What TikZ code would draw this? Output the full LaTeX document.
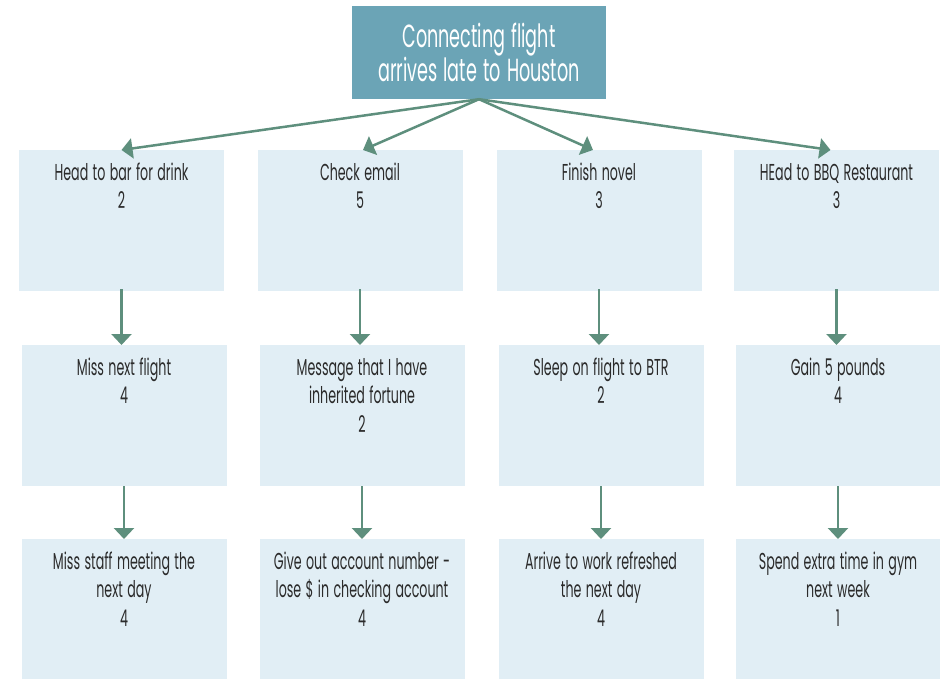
\documentclass[tikz,border=0pt]{standalone}
\usepackage{fontspec}
\setmainfont{Poppins}[FakeStretch=0.55, WordSpace=1.3]
\usetikzlibrary{arrows.meta}
\definecolor{topfill}{HTML}{6BA4B6}
\definecolor{boxfill}{HTML}{E1EEF5}
\definecolor{arrowcol}{HTML}{5E8F7D}
\definecolor{txtcol}{HTML}{2B2B2B}

\begin{document}
\begin{tikzpicture}[x=1pt, y=-1pt,
  box/.style={fill=boxfill, text=txtcol, inner sep=0pt, minimum width=205pt,
    text width=205pt, align=flush center, text height=30pt, text depth=111pt,
    execute at begin node={\spaceskip=0pt\xspaceskip=0pt},
    font=\fontsize{23}{28.5}\selectfont},
  arr/.style={arrowcol, line width=2.5pt, -{Triangle[width=20pt,length=11pt]}}]

\useasboundingbox (0,0) rectangle (940,679);

\node[fill=topfill, text=white, minimum width=254pt, minimum height=93pt, align=center,
  font=\fontsize{32}{34}\selectfont] (top) at (479,52.5) {Connecting flight\\arrives late to Houston};

\node[box, anchor=north] (b11) at (121.5,150) {Head to bar for drink\\2};
\node[box, anchor=north] (b12) at (360,150) {Check email\\5};
\node[box, anchor=north] (b13) at (599,150) {Finish novel\\3};
\node[box, anchor=north] (b14) at (836.5,150) {HEad to BBQ Restaurant\\3};

\node[box, anchor=north] (b21) at (124,345) {Miss next flight\\4};
\node[box, anchor=north] (b22) at (362,345) {Message that I have\\inherited fortune\\2};
\node[box, anchor=north] (b23) at (601,345) {Sleep on flight to BTR\\2};
\node[box, anchor=north] (b24) at (838,345) {Gain 5 pounds\\4};

\node[box, anchor=north] (b31) at (124,539) {Miss staff meeting the\\next day\\4};
\node[box, anchor=north] (b32) at (362,539) {Give out account number -\\lose \$ in checking account\\4};
\node[box, anchor=north] (b33) at (601,539) {Arrive to work refreshed\\the next day\\4};
\node[box, anchor=north] (b34) at (838,539) {Spend extra time in gym\\next week\\1};

\draw[arr] (top.south) -- (b11.north);
\draw[arr] (top.south) -- ([xshift=3pt]b12.north);
\draw[arr] (top.south) -- ([xshift=-6pt]b13.north);
\draw[arr] (top.south) -- ([xshift=-6pt]b14.north);

\draw[arr] ([yshift=2pt]b11.south) -- (b11.south |- b21.north);
\draw[arr] ([yshift=2pt]b12.south) -- (b12.south |- b22.north);
\draw[arr] ([yshift=2pt]b13.south) -- (b13.south |- b23.north);
\draw[arr] ([yshift=2pt]b14.south) -- (b14.south |- b24.north);

\draw[arr] (b21.south) -- (b31.north);
\draw[arr] (b22.south) -- (b32.north);
\draw[arr] (b23.south) -- (b33.north);
\draw[arr] (b24.south) -- (b34.north);

\end{tikzpicture}
\end{document}
